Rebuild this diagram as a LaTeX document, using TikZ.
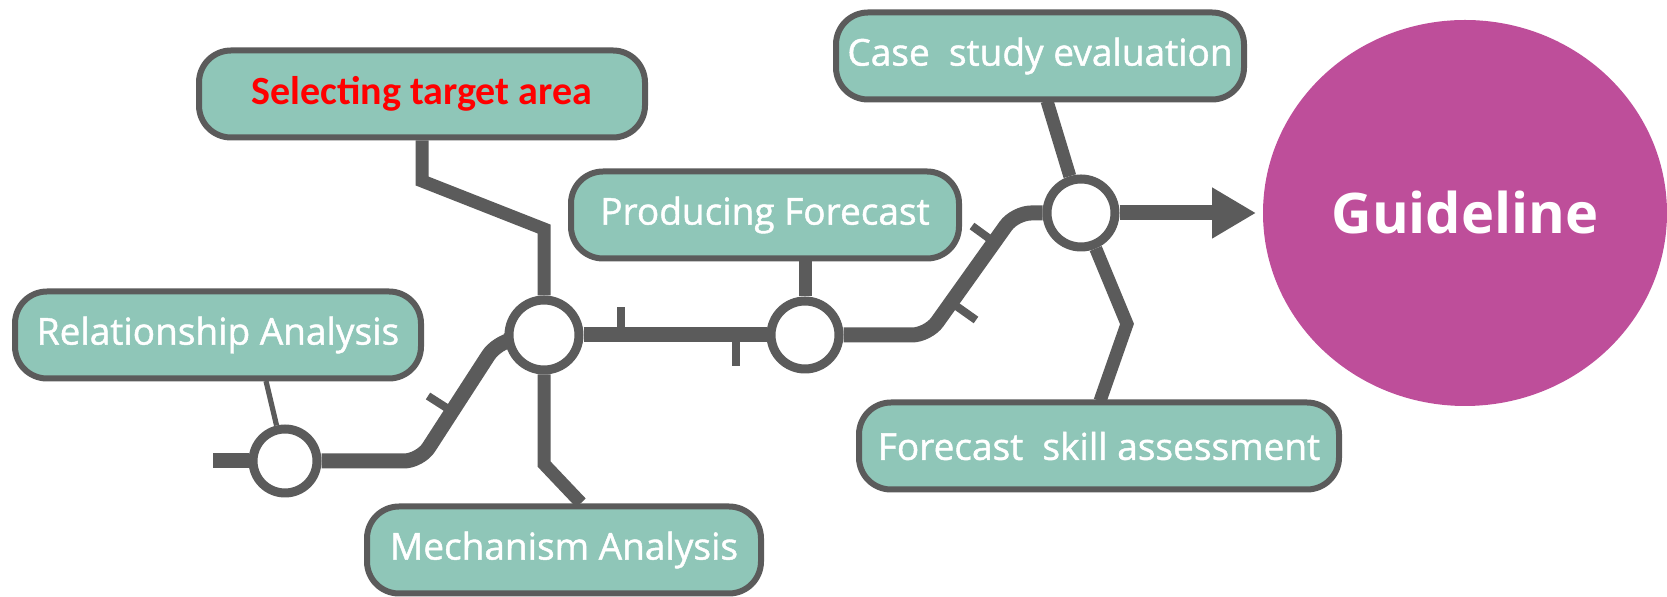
\documentclass[tikz,border=0pt]{standalone}
\usepackage{fontspec}
\setmainfont{Open Sans}
\newfontfamily\stagefont[FakeBold=1.2]{Open Sans}
\newfontfamily\redfont{Carlito}
\usetikzlibrary{arrows.meta,calc,positioning,shapes.geometric}

\definecolor{trackgray}{RGB}{91,91,91}
\definecolor{stagefill}{RGB}{143,198,184}
\definecolor{guidefill}{RGB}{190,78,154}

\tikzset{
  stage/.style={draw=trackgray,line width=3pt,fill=stagefill,rounded corners=16pt,
    text=white,font=\stagefont\fontsize{18.5}{22}\selectfont,minimum height=43.5pt,inner sep=0pt},
  station/.style={circle,draw=trackgray,line width=4.5pt,fill=white,minimum size=34pt,inner sep=0pt},
  rail/.style={draw=trackgray,line width=7.5pt,rounded corners=8pt},
  spur/.style={draw=trackgray,line width=6.5pt},
  thinspur/.style={draw=trackgray,line width=2.6pt},
  tick/.style={draw=trackgray,line width=4pt},
}

\begin{document}
\begin{tikzpicture}[x=0.5pt,y=-0.5pt]
\useasboundingbox (0,0) rectangle (1667,597);

% stages
\node[stage,minimum width=223pt,text=red,font=\redfont\bfseries\fontsize{20}{24}\selectfont] (select) at (422,94) {Selecting target area};
\node[stage,minimum width=194pt] (produce) at (765,215) {Producing Forecast};
\node[stage,minimum width=203pt] (relation) at (218,335) {Relationship Analysis};
\node[stage,minimum width=197pt] (mechanism) at (564,550) {Mechanism Analysis};
\node[stage,minimum width=204pt] (casestudy) at (1040,56) {Case\ \ study evaluation};
\node[stage,minimum width=240pt] (skill) at (1099,446) {Forecast\ \ skill assessment};
\node[ellipse,fill=guidefill,minimum width=202pt,minimum height=193pt,text=white,
  font=\bfseries\fontsize{28}{34}\selectfont] (guide) at (1465,213) {Guideline};

% stations
\node[station,minimum size=32pt] (relst) at (285,461) {};
\node[station,minimum size=35pt] (selst) at (544,335) {};
\node[station] (prodst) at (805,335) {};
\node[station] (casest) at (1081,213) {};

% bends
\coordinate (start) at (213,461);
\coordinate (b1) at (420,461);
\coordinate (b2) at (497,342);
\coordinate (b3) at (928,335);
\coordinate (b4) at (1015,213);
\coordinate (tip) at (1256,213);
\coordinate (u1) at (544,229);
\coordinate (u2) at (422,181);
\coordinate (d1) at (544,464);
\coordinate (d2) at (581,503);
\coordinate (r1) at (266,381);
\coordinate (c1) at (1047,101);
\coordinate (k1) at (1127,324);
\coordinate (k2) at (1100,401);

% main line
\draw[rail] (start) -- (relst);
\draw[rail] (relst) -- (b1) -- (b2) -- (selst);
\draw[rail] (selst) -- (prodst);
\draw[rail] (prodst) -- (b3) -- (b4) -- (casest);
\draw[rail,-{Triangle[length=22pt,width=24pt]}] (casest) -- (tip);

% branches
\draw[spur] (selst) -- (u1) -- (u2) -- (select);
\draw[spur] (selst) -- (d1) -- (d2);
\draw[thinspur] (relst) -- (r1);
\draw[spur] (prodst) -- (prodst |- produce.south);
\draw[spur] (casest) -- (c1);
\draw[spur] (casest) -- (k1) -- (k2);

% ticks
\draw[tick] (453,412) -- (428,396);
\draw[tick] (621,335) -- (621,307);
\draw[tick] (736,335) -- (736,366);
\draw[tick] (994,242) -- (972,226);
\draw[tick] (952,303) -- (976,320);
\end{tikzpicture}
\end{document}
